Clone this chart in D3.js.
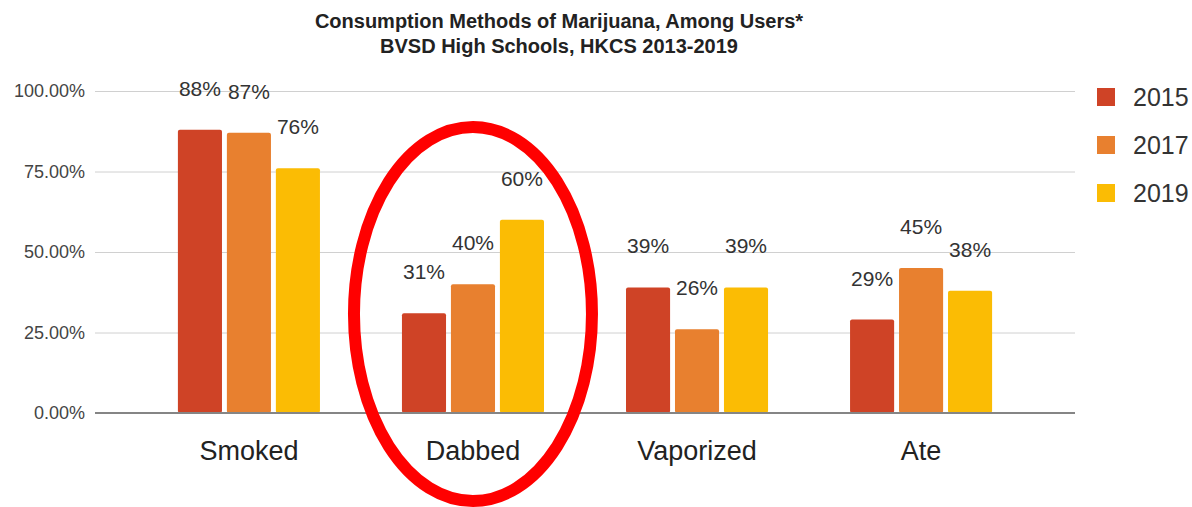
<!DOCTYPE html>
<html>
<head>
<meta charset="utf-8">
<script src="https://cdn.jsdelivr.net/npm/d3@7"></script>
<style>
  html, body { margin: 0; padding: 0; background: #fff; }
  svg { display: block; }
  text { font-family: "Liberation Sans", Arial, sans-serif; }
</style>
</head>
<body>
<svg id="chart" width="1192" height="507"></svg>
<script>
// Survey results: share of marijuana users by consumption method
const categories = ["Smoked", "Dabbed", "Vaporized", "Ate"];
const years = ["2015", "2017", "2019"];
const values2015 = [88, 31, 39, 29];
const values2017 = [87, 40, 26, 45];
const values2019 = [76, 60, 39, 38];
const yTicks = [0, 25, 50, 75, 100];
const colors = ["#cf4326", "#e8802f", "#fbbc04"];
const titleLines = [
  "Consumption Methods of Marijuana, Among Users*",
  "BVSD High Schools, HKCS 2013-2019"
];
const highlighted = "Dabbed";

const series = [values2015, values2017, values2019];

const svg = d3.select("#chart");
const plot = { left: 95, right: 1075, top: 91, bottom: 413 };

const x0 = d3.scaleBand()
  .domain(categories)
  .range([plot.left, plot.right])
  .paddingInner(0.366)
  .paddingOuter(0.37);

const x1 = d3.scaleBand()
  .domain(years)
  .range([0, x0.bandwidth()])
  .paddingInner(0.1);

const y = d3.scaleLinear()
  .domain([0, 100])
  .range([plot.bottom, plot.top]);

const color = d3.scaleOrdinal().domain(years).range(colors);

// Title
svg.append("g").selectAll("text")
  .data(titleLines)
  .join("text")
  .attr("x", 559)
  .attr("y", (d, i) => 28 + i * 25)
  .attr("text-anchor", "middle")
  .attr("font-size", 20)
  .attr("font-weight", "bold")
  .attr("fill", "#222")
  .text(d => d);

// Gridlines and y tick labels
const yAxis = d3.axisLeft(y)
  .tickValues(yTicks)
  .tickSize(-(plot.right - plot.left))
  .tickPadding(10)
  .tickFormat(d => d.toFixed(2) + "%");

const gy = svg.append("g")
  .attr("transform", `translate(${plot.left},0)`)
  .call(yAxis);
gy.select(".domain").remove();
gy.selectAll(".tick line").attr("stroke", "#d0d0d0").attr("stroke-width", 1);
gy.selectAll(".tick text")
  .attr("font-size", 18)
  .attr("fill", "#444")
  .attr("font-family", "'Liberation Sans', Arial, sans-serif");

// Bars
const rows = categories.map((c, i) => ({ category: c, values: years.map((yr, j) => ({ year: yr, value: series[j][i] })) }));

const groups = svg.append("g").selectAll("g")
  .data(rows)
  .join("g")
  .attr("transform", d => `translate(${x0(d.category)},0)`);

groups.selectAll("rect")
  .data(d => d.values)
  .join("rect")
  .attr("x", d => x1(d.year))
  .attr("y", d => y(d.value))
  .attr("width", x1.bandwidth())
  .attr("height", d => y(0) - y(d.value))
  .attr("rx", 2)
  .attr("fill", d => color(d.year));

// Value labels above bars
groups.selectAll("text.val")
  .data(d => d.values)
  .join("text")
  .attr("class", "val")
  .attr("x", d => x1(d.year) + x1.bandwidth() / 2)
  .attr("y", d => y(d.value) - 34)
  .attr("text-anchor", "middle")
  .attr("font-size", 21)
  .attr("fill", "#333")
  .text(d => d.value + "%");

// Zero baseline
svg.append("line")
  .attr("x1", plot.left).attr("x2", plot.right)
  .attr("y1", y(0)).attr("y2", y(0))
  .attr("stroke", "#858585")
  .attr("stroke-width", 2);

// Category labels
const xAxis = d3.axisBottom(x0).tickSize(0).tickPadding(28);
const gx = svg.append("g")
  .attr("transform", `translate(0,${plot.bottom})`)
  .call(xAxis);
gx.select(".domain").remove();
gx.selectAll(".tick text")
  .attr("font-size", 27)
  .attr("fill", "#222")
  .attr("font-family", "'Liberation Sans', Arial, sans-serif");

// Legend
const legend = svg.append("g").selectAll("g")
  .data(years)
  .join("g")
  .attr("transform", (d, i) => `translate(1097,${97 + i * 48})`);
legend.append("rect")
  .attr("x", 0).attr("y", -9)
  .attr("width", 18).attr("height", 18)
  .attr("fill", d => color(d));
legend.append("text")
  .attr("x", 36).attr("y", 9)
  .attr("font-size", 25)
  .attr("fill", "#333")
  .text(d => d);

// Emphasis ring around the highlighted category
svg.append("ellipse")
  .attr("cx", x0(highlighted) + x0.bandwidth() / 2)
  .attr("cy", 314)
  .attr("rx", 119)
  .attr("ry", 187)
  .attr("fill", "none")
  .attr("stroke", "#ff0000")
  .attr("stroke-width", 12);
</script>
</body>
</html>
